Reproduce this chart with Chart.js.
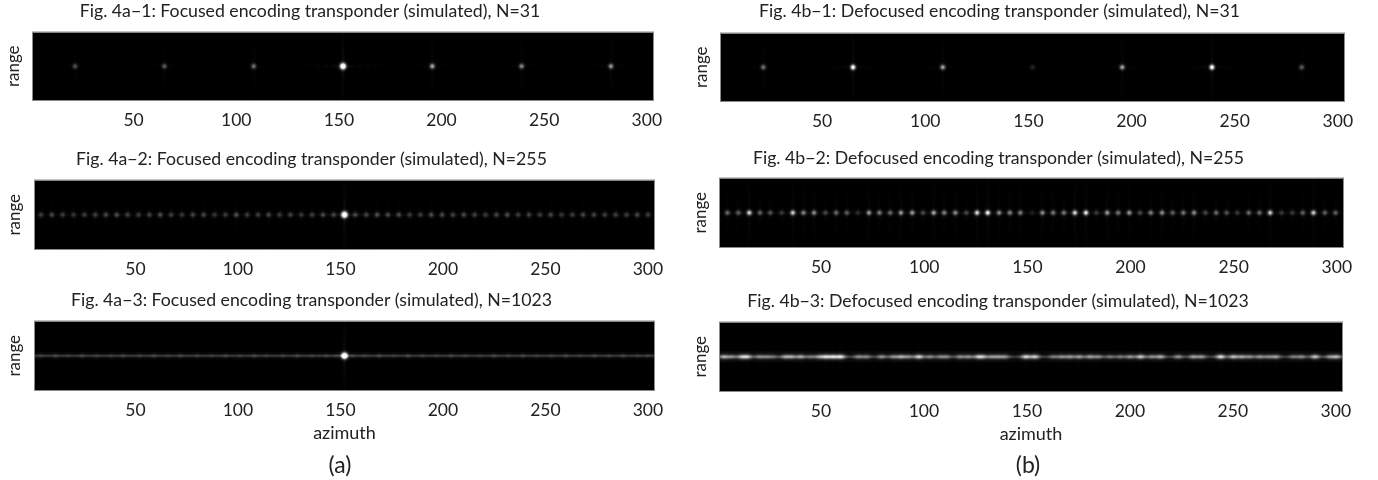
<!DOCTYPE html>
<html><head><meta charset="utf-8">
<script src="https://cdn.jsdelivr.net/npm/chart.js@4/dist/chart.umd.js"></script>
<style>
html,body{margin:0;padding:0;background:#fff;overflow:hidden;width:1378px;height:480px}
canvas{position:absolute;filter:blur(0.45px)}
.cap{position:absolute;font:23px Lato,sans-serif;color:#222;transform:translate(-50%,-50%);filter:blur(0.4px)}
</style></head><body>
<div class="cap" style="left:340px;top:464px">(a)</div>
<div class="cap" style="left:1028px;top:464px">(b)</div>
<script>
const xTicks=[50,100,150,200,250,300];
const titleA1="Fig. 4a\u22121: Focused encoding transponder (simulated), N=31";
const titleA2="Fig. 4a\u22122: Focused encoding transponder (simulated), N=255";
const titleA3="Fig. 4a\u22123: Focused encoding transponder (simulated), N=1023";
const titleB1="Fig. 4b\u22121: Defocused encoding transponder (simulated), N=31";
const titleB2="Fig. 4b\u22122: Defocused encoding transponder (simulated), N=255";
const titleB3="Fig. 4b\u22123: Defocused encoding transponder (simulated), N=1023";

const n31Azimuth=[21.5,65,108.5,152,195.5,239,282.5];
const a1Intensity=[0.3,0.34,0.42,1.5,0.62,0.5,0.55];
const b1Intensity=[0.42,1.05,0.6,0.13,0.6,1.05,0.34];

const a2Azimuth=[3.9,9.2,14.5,19.8,25.1,30.4,35.6,40.9,46.2,51.5,56.8,62.1,67.4,72.7,78,83.3,88.6,93.9,99.2,104.5,109.8,115,120.3,125.6,130.9,136.2,141.5,146.7,152,157.3,162.6,167.9,173.2,178.5,183.8,189,194.3,199.6,204.9,210.2,215.5,220.8,226.1,231.4,236.7,242,247.3,252.6,257.9,263.2,268.4,273.7,279,284.3,289.6,294.8,300.1];
const a2Intensity=[0.22,0.26,0.22,0.2,0.22,0.24,0.26,0.28,0.24,0.22,0.24,0.28,0.22,0.2,0.25,0.26,0.2,0.22,0.3,0.22,0.22,0.26,0.22,0.24,0.2,0.22,0.26,0.24,1.6,0.26,0.24,0.28,0.26,0.28,0.22,0.22,0.28,0.26,0.24,0.26,0.24,0.22,0.26,0.28,0.22,0.24,0.22,0.26,0.2,0.22,0.26,0.24,0.22,0.24,0.22,0.26,0.22];

const b2Azimuth=[4.6,9.9,15.2,20.4,25.4,30.9,36.3,41.5,46.6,52.1,57.3,62.5,67.8,73.2,78.3,83.5,88.7,94.2,99.4,104.6,109.7,115.1,120.4,125.6,130.8,136.3,141.5,146.6,152.3,157.3,162.5,167.7,173,178.4,183.5,188.7,194,199.4,204.6,209.8,215.3,220.4,225.6,230.8,236.3,241.5,246.6,251.8,257.3,262.5,267.7,273.2,278.4,283.5,288.7,294.2,299.4];
const b2Intensity=[0.38,0.34,0.78,0.34,0.3,0.2,0.74,0.46,0.5,0.25,0.38,0.34,0.16,0.55,0.46,0.38,0.55,0.55,0.25,0.6,0.46,0.5,0.25,0.78,0.9,0.5,0.46,0.46,0.1,0.5,0.42,0.42,0.78,0.85,0.2,0.55,0.42,0.55,0.25,0.46,0.5,0.34,0.42,0.5,0.25,0.38,0.3,0.2,0.38,0.38,0.74,0.2,0.2,0.34,0.74,0.34,0.34];

const a3Azimuth=[4,11,17,24,31,38,44,52,59,66,72,80,87,94,101,108,114,122,129,136,143,148,152,156,162,169,176,183,190,197,204,211,218,225,232,239,246,253,260,267,274,281,288,295,300];
const a3Intensity=[0.05,0.07,0.04,0.08,0.05,0.04,0.07,0.05,0.08,0.04,0.07,0.05,0.04,0.07,0.05,0.08,0.04,0.05,0.07,0.04,0.05,0.03,1.6,0.03,0.05,0.07,0.04,0.08,0.05,0.04,0.07,0.05,0.04,0.08,0.05,0.07,0.04,0.05,0.07,0.04,0.08,0.05,0.07,0.04,0.05];

const b3Azimuth=[2.9,6.7,11.5,14.3,20.1,23.7,26.9,32.6,35.8,40.2,45,49.2,52.5,56,59.6,68.2,72.2,79.5,85.1,88.9,92.6,97.6,102.9,107.8,111,117.5,121.6,126.4,128.8,132.9,136.1,139.4,149.5,153.9,162.8,166.9,170.9,175.4,180.6,184.7,190.3,195.2,200,205.2,210.6,214.9,223.5,230.8,234.8,244.1,250.2,254.3,258.3,263.1,267.2,270.9,279.3,283.4,289.9,297.1,300.4];
const b3Intensity=[0.42,0.3,0.42,0.48,0.3,0.24,0.2,0.36,0.36,0.4,0.24,0.36,0.52,0.52,0.6,0.3,0.27,0.33,0.3,0.4,0.3,0.56,0.3,0.24,0.27,0.3,0.3,0.42,0.36,0.3,0.3,0.3,0.56,0.52,0.24,0.3,0.33,0.36,0.36,0.3,0.24,0.24,0.33,0.52,0.3,0.42,0.33,0.36,0.33,0.6,0.46,0.36,0.3,0.33,0.27,0.36,0.24,0.3,0.5,0.3,0.42];

const streakAzimuth=[1,303];
const streakLevel=[0,0];

const glowCache={};
function glow(v,stretch){
  const key=v+'_'+stretch;
  if(glowCache[key])return glowCache[key];
  const c=document.createElement('canvas');
  const W=v>1.2?120:(stretch>1?30:60),H=80;
  c.width=W;c.height=H;
  const g=c.getContext('2d');
  const cx=W/2,cy=H/2;
  const img=g.createImageData(W,H);
  const sy=v>1.2?2.0:1.7, sx=sy*stretch;
  for(let j=0;j<H;j++)for(let i=0;i<W;i++){
    const dx=i+0.5-cx,dy=j+0.5-cy;
    let a=v*1.1*Math.exp(-(dx*dx/(2*sx*sx)+dy*dy/(2*sy*sy)));
    const lobe=stretch>1?0.02:0.04;
    a+=v*lobe*Math.exp(-dx*dx/2)*Math.exp(-Math.abs(dy)/22);
    a+=v*lobe*Math.exp(-dy*dy/2)*Math.exp(-Math.abs(dx)/22)*(0.6+0.4*Math.cos(dx*0.75));
    const p=(j*W+i)*4;
    img.data[p]=img.data[p+1]=img.data[p+2]=255;
    img.data[p+3]=Math.min(255,Math.max(0,a*255));
  }
  g.putImageData(img,0,0);
  glowCache[key]=c;
  return c;
}
const field={
  id:'field',
  beforeDatasetsDraw(ch){
    const {ctx,chartArea:a}=ch;
    ctx.save();
    ctx.fillStyle='#000';
    ctx.fillRect(a.left,a.top,a.width,a.height);
    ctx.globalCompositeOperation='lighter';
  },
  afterDatasetsDraw(ch){
    const {ctx,chartArea:a}=ch;
    ctx.restore();
    ctx.strokeStyle='#8a8a8a';ctx.lineWidth=1;
    ctx.strokeRect(a.left-0.5,a.top-0.5,a.width+1,a.height+1);
  }
};
function pts(xs,ys){return xs.map((x,i)=>({x:x,y:ys?ys[i]:0}));}
function spots(xs,vals,stretch){
  return {data:pts(xs),showLine:false,pointRadius:3,pointHoverRadius:3,
    pointStyle:c=>glow(vals[c.dataIndex],stretch)};
}
function streak(w,col){
  return {data:pts(streakAzimuth,streakLevel),showLine:true,borderWidth:w,borderColor:col,pointRadius:0};
}
const LEFT=66,RIGHT=20;
function panel(o){
  const titleH=21;
  const h=o.top-(o.tc-titleH/2);
  const pH=o.bottom-o.top,pW=o.right-o.left;
  const axisH=o.xTitle?62:32;
  const cv=document.createElement('canvas');
  cv.width=pW+LEFT+RIGHT;cv.height=h+pH+axisH;
  cv.style.left=(o.left-LEFT)+'px';cv.style.top=(o.top-h)+'px';
  cv.style.width=cv.width+'px';cv.style.height=cv.height+'px';
  document.body.appendChild(cv);
  new Chart(cv,{
    type:'scatter',
    data:{datasets:o.datasets},
    plugins:[field],
    options:{
      responsive:false,animation:false,devicePixelRatio:1,
      layout:{padding:{left:0,right:RIGHT,top:0,bottom:0}},
      plugins:{
        legend:{display:false},tooltip:{enabled:false},
        title:{display:true,text:o.title,color:'#222',
          font:{family:'Lato',size:17.7,weight:'normal',lineHeight:1.2},
          padding:{top:0,bottom:h-21.24}}
      },
      scales:{
        x:{type:'linear',min:1,max:303,
          grid:{display:false,drawTicks:false},border:{display:false},
          ticks:{color:'#222',padding:10,maxRotation:0,autoSkip:false,
            font:{family:'Lato',size:17.5}},
          afterBuildTicks:s=>{s.ticks=xTicks.map(v=>({value:v}));},
          afterFit:s=>{s.height=axisH;s.paddingLeft=0;s.paddingRight=0;},
          title:{display:!!o.xTitle,text:o.xTitle||'',color:'#222',
            font:{family:'Lato',size:18,lineHeight:1.2},padding:{top:0,bottom:8}}
        },
        y:{type:'linear',min:-1,max:1,
          grid:{display:false,drawTicks:false},border:{display:false},
          ticks:{display:false},
          afterFit:s=>{s.width=LEFT;s.paddingTop=0;s.paddingBottom=0;},
          title:{display:true,text:'range',color:'#222',
            font:{family:'Lato',size:17,lineHeight:1.2},padding:{top:LEFT-o.rangeGap-10.2,bottom:0}}
        }
      }
    }
  });
}
panel({title:titleA1,tc:11,left:33,right:653,top:32,bottom:100,rangeGap:19,
  datasets:[spots(n31Azimuth,a1Intensity,1)]});
panel({title:titleA2,tc:159,left:35,right:654,top:180,bottom:249,rangeGap:20,
  datasets:[spots(a2Azimuth,a2Intensity,1)]});
panel({title:titleA3,tc:300,left:35,right:654,top:321,bottom:390,rangeGap:20,xTitle:'azimuth',
  datasets:[streak(1.6,'rgb(30,30,30)'),streak(3.4,'rgb(20,20,20)'),streak(7,'rgb(7,7,7)'),spots(a3Azimuth,a3Intensity,1)]});
panel({title:titleB1,tc:11,left:721,right:1344,top:33,bottom:101,rangeGap:19,
  datasets:[spots(n31Azimuth,b1Intensity,1)]});
panel({title:titleB2,tc:158,left:720,right:1343,top:178,bottom:247,rangeGap:19,
  datasets:[spots(b2Azimuth,b2Intensity,1)]});
panel({title:titleB3,tc:301,left:720,right:1342,top:322,bottom:391,rangeGap:19,xTitle:'azimuth',
  datasets:[streak(1.6,'rgb(30,30,30)'),streak(4,'rgb(20,20,20)'),streak(11,'rgb(7,7,7)'),spots(b3Azimuth,b3Intensity,2)]});
</script>
</body></html>
